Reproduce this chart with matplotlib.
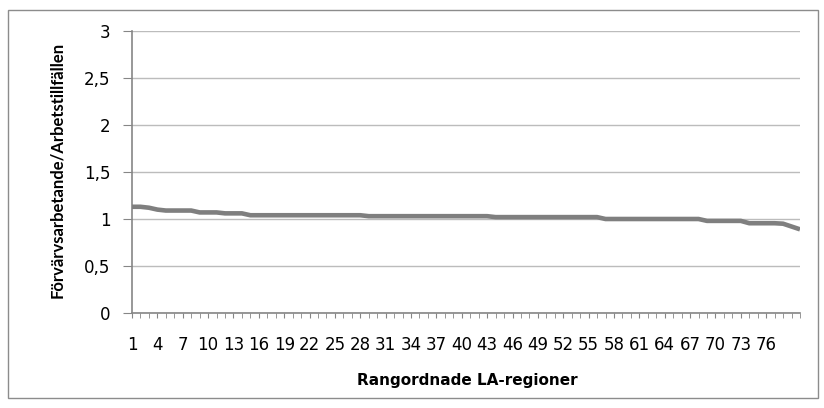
import matplotlib
matplotlib.use("Agg")
import matplotlib.pyplot as plt
from matplotlib.patches import Rectangle

# Data: ranked LA-regions (1..80) and ratio Förvärvsarbetande/Arbetstillfällen
regions = list(range(1, 81))
ratio = ([1.13, 1.13, 1.12, 1.10, 1.09, 1.09, 1.09, 1.09, 1.07, 1.07, 1.07,
          1.06, 1.06, 1.06]
         + [1.04] * 14      # 15-28
         + [1.03] * 15      # 29-43
         + [1.02] * 13      # 44-56
         + [1.00] * 12      # 57-68
         + [0.98] * 5       # 69-73
         + [0.955] * 4      # 74-77
         + [0.95, 0.92, 0.89])  # 78-80
tick_positions = list(range(1, 77, 3))
tick_labels = [str(v) for v in tick_positions]
yticks = [0, 0.5, 1, 1.5, 2, 2.5, 3]
ytick_labels = ["0", "0,5", "1", "1,5", "2", "2,5", "3"]

plt.rcParams['font.family'] = ['DejaVu Sans']

W, H = 824, 408
fig = plt.figure(figsize=(W / 100, H / 100), dpi=100)
fig.patches.append(Rectangle((8 / W, 1 - 398 / H), (818 - 8) / W, (398 - 10) / H,
                             transform=fig.transFigure, fill=False,
                             edgecolor="#8c8c8c", linewidth=1.0))

ax = fig.add_axes([132 / W, 1 - 313 / H, (800 - 132) / W, (313 - 31) / H])
ax.plot(regions, ratio, color="#7f7f7f", linewidth=3.3, solid_joinstyle="round",
        solid_capstyle="butt", zorder=3)

ax.set_xlim(1, 80)
ax.set_ylim(0, 3)
ax.set_yticks(yticks)
ax.set_yticklabels(ytick_labels)
ax.set_xticks(tick_positions)
ax.set_xticklabels(tick_labels)
ax.set_xticks(regions, minor=True)

ax.grid(axis="y", color="#bcbcbc", linewidth=1.0)
ax.set_axisbelow(True)
for s in ["top", "right"]:
    ax.spines[s].set_visible(False)
for s in ["left", "bottom"]:
    ax.spines[s].set_color("#868686")
    ax.spines[s].set_linewidth(1.2)

ax.tick_params(axis="y", direction="out", length=6.5, color="#868686",
               labelsize=12, pad=9, labelcolor="black")
ax.tick_params(axis="x", which="both", direction="out", length=3.5, color="#868686",
               labelsize=12, pad=13, labelcolor="black")

fig.text(57 / W, 1 - 170 / H, "Förvärvsarbetande/Arbetstillfällen",
         rotation=90, ha="center", va="center", fontsize=12,
         fontweight="bold", family=["Lato", "DejaVu Sans"])
fig.text(467 / W, 1 - 381 / H, "Rangordnade LA-regioner",
         ha="center", va="center", fontsize=11, fontweight="bold")

fig.savefig("out.png", dpi=100)
